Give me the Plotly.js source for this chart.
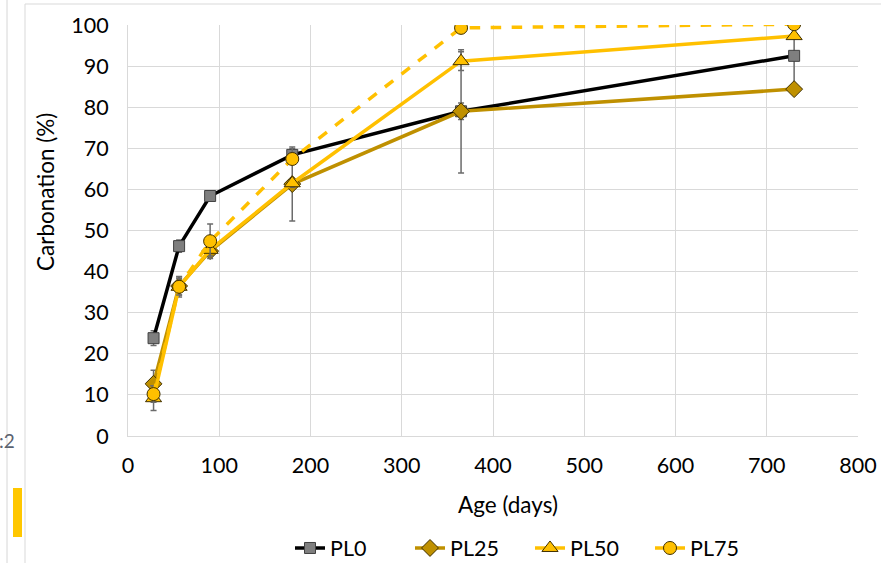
<!DOCTYPE html>
<html>
<head>
<meta charset="utf-8">
<script src="https://cdn.plot.ly/plotly-3.0.1.min.js"></script>
<style>html,body{margin:0;padding:0;background:#fff;}#chart{width:881px;height:563px;}</style>
</head>
<body>
<div id="chart"></div>
<script>
const ageDays = [28, 56, 90, 180, 365, 730];
const seriesNames = ["PL0", "PL25", "PL50", "PL75"];
const pl0 = [23.8, 46.2, 58.4, 68.4, 79.0, 92.5];
const pl25 = [12.7, 36.5, 45.0, 61.3, 79.0, 84.4];
const pl50 = [9.2, 36.3, 45.3, 61.5, 91.2, 97.3];
const pl75 = [10.2, 36.3, 47.4, 67.4, 99.3, 100.2];
const pl0Err = [1.8, 1.5, 1.0, 1.5, 2.0, 8.0];
const pl25Err = [3.3, 2.2, 1.0, 9.0, 15.0, 0.5];
const pl50Err = [3.0, 2.5, 1.5, 1.0, 2.3, 0.5];
const pl75Err = [2.0, 2.0, 4.2, 1.0, 0.5, 0.5];
const xTicks = [0, 100, 200, 300, 400, 500, 600, 700, 800];
const yTicks = [0, 10, 20, 30, 40, 50, 60, 70, 80, 90, 100];

const FONT = "Lato, 'Liberation Sans', sans-serif";
const FS = 21.5;
const errStyle = (arr) => ({type: 'data', array: arr, visible: true, color: '#6b6b6b', thickness: 1.5, width: 3});

// pixel -> paper helpers for decorative elements
const L = 128, R = 858, T = 25, B = 436;
const px = (x) => (x - L) / (R - L);
const py = (y) => (B - y) / (B - T);

const traces = [
  {x: ageDays, y: pl0, name: seriesNames[0], mode: 'lines+markers', error_y: errStyle(pl0Err),
   line: {color: '#000000', width: 3.5},
   marker: {symbol: 'square', size: 11, color: '#7f7f7f', line: {color: '#404040', width: 1}}},
  {x: ageDays, y: pl25, name: seriesNames[1], mode: 'lines+markers', error_y: errStyle(pl25Err),
   line: {color: '#BF9000', width: 3.5},
   marker: {symbol: 'diamond', size: 13, color: '#BF9000', line: {color: '#403000', width: 1}}},
  {x: ageDays, y: pl50, name: seriesNames[2], mode: 'lines+markers', error_y: errStyle(pl50Err),
   line: {color: '#FFC000', width: 3.5},
   marker: {symbol: 'triangle-up', size: 14, color: '#FFC000', line: {color: '#403000', width: 1}}},
  {x: ageDays, y: pl75, name: seriesNames[3], mode: 'lines+markers', error_y: errStyle(pl75Err),
   line: {color: '#FFC000', width: 3.5, dash: 'dash'},
   marker: {symbol: 'circle', size: 13, color: '#FFC000', line: {color: '#403000', width: 1}}}
];

const layout = {
  width: 881, height: 563,
  margin: {l: L, r: 881 - R, t: T, b: 563 - B, autoexpand: false},
  paper_bgcolor: '#ffffff', plot_bgcolor: '#ffffff',
  font: {family: FONT, size: FS, color: '#000000'},
  showlegend: true,
  legend: {orientation: 'h', x: px(290), xanchor: 'left', y: py(548), yanchor: 'middle',
           font: {family: FONT, size: FS, color: '#000'}, itemwidth: 30, traceorder: 'normal',
           entrywidth: 75, entrywidthmode: 'pixels',
           bgcolor: 'rgba(0,0,0,0)'},
  xaxis: {range: [0, 800], tickvals: xTicks, ticktext: xTicks.map(String), showgrid: true,
          gridcolor: '#d9d9d9', gridwidth: 1, zeroline: false, showline: true, linecolor: '#d9d9d9',
          ticks: '', ticklabelstandoff: 10, tickfont: {family: FONT, size: FS}, fixedrange: true},
  yaxis: {range: [0, 100], tickvals: yTicks, ticktext: yTicks.map(String), showgrid: true,
          gridcolor: '#d9d9d9', gridwidth: 1, zeroline: false, showline: true, linecolor: '#d9d9d9',
          ticks: '', ticklabelstandoff: 14, tickfont: {family: FONT, size: FS}, fixedrange: true},
  annotations: [
    {text: 'Age (days)', xref: 'paper', yref: 'paper', x: px(508), y: py(505), xanchor: 'center', yanchor: 'middle',
     showarrow: false, font: {family: FONT, size: 22.5, color: '#000'}},
    {text: 'Carbonation (%)', xref: 'paper', yref: 'paper', x: px(46), y: py(192), xanchor: 'center', yanchor: 'middle',
     textangle: -90, showarrow: false, font: {family: FONT, size: 22.5, color: '#000'}},
    {text: ':2', xref: 'paper', yref: 'paper', x: px(-3), y: py(440), xanchor: 'left', yanchor: 'middle',
     showarrow: false, font: {family: FONT, size: 19, color: '#5a6270'}}
  ],
  shapes: [
    {type: 'line', xref: 'paper', yref: 'paper', x0: px(7), x1: px(7), y0: py(0), y1: py(563), line: {color: '#d6d6d6', width: 1}},
    {type: 'line', xref: 'paper', yref: 'paper', x0: px(25), x1: px(25), y0: py(4), y1: py(563), line: {color: '#d9d9d9', width: 1}},
    {type: 'line', xref: 'paper', yref: 'paper', x0: px(25), x1: px(881), y0: py(4), y1: py(4), line: {color: '#d9d9d9', width: 1}},
    {type: 'rect', xref: 'paper', yref: 'paper', x0: px(13), x1: px(22), y0: py(537), y1: py(488), fillcolor: '#FFC700', line: {width: 0}}
  ]
};

Plotly.newPlot('chart', traces, layout, {displayModeBar: false, staticPlot: true});
</script>
</body>
</html>
